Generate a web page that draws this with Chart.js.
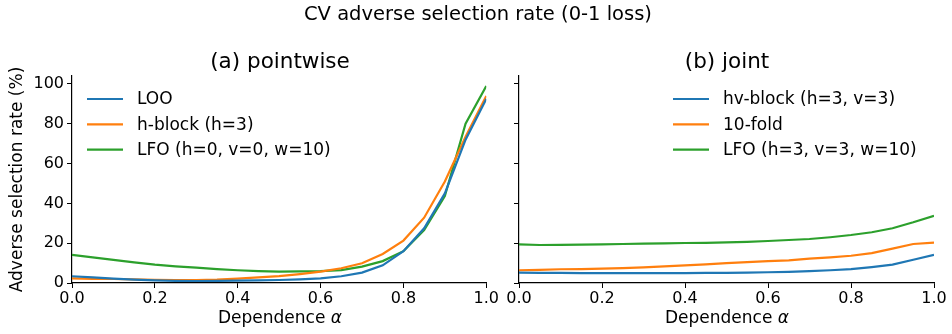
<!DOCTYPE html>
<html>
<head>
<meta charset="utf-8">
<script src="https://cdn.jsdelivr.net/npm/chart.js@4.4.1/dist/chart.umd.min.js"></script>
<style>
  body { margin: 0; background: #fff; }
  #wrap { position: relative; width: 952px; height: 334px; font-family: "DejaVu Sans", sans-serif; color: #000; }
  canvas { position: absolute; top: 0; }
  .t { position: absolute; white-space: nowrap; transform: translateX(-50%); line-height: 1; }
</style>
</head>
<body>
<div id="wrap">
  <canvas id="left" width="500" height="334" style="left:0; width:500px; height:334px;"></canvas>
  <canvas id="right" width="452" height="334" style="left:500px; width:452px; height:334px;"></canvas>
  <div class="t" style="left:478px; top:4px; font-size:19.5px;">CV adverse selection rate (0-1 loss)</div>
  <div class="t" style="left:280px; top:50px; font-size:21.5px;">(a) pointwise</div>
  <div class="t" style="left:727px; top:50px; font-size:21.5px;">(b) joint</div>
  <div class="t" style="left:280px; top:309px; font-size:17px;">Dependence <i>&alpha;</i></div>
  <div class="t" style="left:727px; top:309px; font-size:17px;">Dependence <i>&alpha;</i></div>
</div>
<script>
const alpha = [0, 0.05, 0.1, 0.15, 0.2, 0.25, 0.3, 0.35, 0.4, 0.45, 0.5,
               0.55, 0.6, 0.65, 0.7, 0.75, 0.8, 0.85, 0.9, 0.95, 1.0];
const xTicks = [0, 0.2, 0.4, 0.6, 0.8, 1.0];
const yTicks = [0, 20, 40, 60, 80, 100];

// (a) pointwise
const looRate = [3.4, 2.8, 2.2, 1.7, 1.3, 1.1, 1.0, 1.1, 1.2, 1.3, 1.5,
                 1.8, 2.3, 3.4, 5.2, 8.9, 16, 27.5, 45, 72, 92.5];
const hBlockRate = [2.3, 2.1, 2.0, 1.8, 1.6, 1.5, 1.5, 1.7, 2.2, 2.8, 3.5,
                    4.5, 5.7, 7.4, 9.9, 14.6, 21.3, 32.8, 51, 73.5, 94];
const lfoPointRate = [14.1, 12.9, 11.6, 10.4, 9.2, 8.4, 7.7, 7.0, 6.4, 6.0, 5.7,
                      5.8, 6.0, 6.5, 8.2, 11, 16, 26.6, 43.7, 80, 99];

// (b) joint
const hvBlockRate = [5.2, 5.1, 5.1, 5.0, 5.0, 5.0, 5.0, 5.0, 5.0, 5.1, 5.1,
                     5.2, 5.4, 5.6, 6.0, 6.4, 7.0, 8.0, 9.2, 11.7, 14.1];
const tenFoldRate = [6.4, 6.6, 6.9, 7.0, 7.2, 7.5, 7.9, 8.4, 8.9, 9.4, 10,
                     10.5, 11, 11.4, 12.2, 12.9, 13.7, 15, 17.3, 19.6, 20.3];
const lfoJointRate = [19.4, 19.1, 19.2, 19.3, 19.4, 19.6, 19.8, 19.9, 20.1, 20.2, 20.4,
                      20.7, 21.1, 21.6, 22.1, 23, 24.1, 25.5, 27.5, 30.5, 33.8];

const BLUE = "#1f77b4", ORANGE = "#ff7f0e", GREEN = "#2ca02c";
const FONT = "DejaVu Sans";

function series(label, values, color) {
  return {
    label,
    data: alpha.map((a, i) => ({ x: a, y: values[i] })),
    borderColor: color,
    backgroundColor: color,
    borderWidth: 2.2,
    pointRadius: 0,
    tension: 0,
    fill: false,
  };
}

// legend drawn inside the plot like matplotlib's
const boxLegend = {
  id: "boxLegend",
  afterDraw(chart, args, opts) {
    const ctx = chart.ctx;
    ctx.save();
    ctx.font = "17px " + FONT;
    ctx.textBaseline = "middle";
    chart.data.datasets.forEach((ds, i) => {
      const y = opts.y + i * 25.3;
      ctx.strokeStyle = ds.borderColor;
      ctx.lineWidth = 2.2;
      ctx.beginPath();
      ctx.moveTo(opts.x, y);
      ctx.lineTo(opts.x + 36, y);
      ctx.stroke();
      ctx.fillStyle = "#000";
      ctx.fillText(ds.label, opts.x + 50, y + 1);
    });
    ctx.restore();
  },
};

function makeChart(id, datasets, yAxisWidth, padRight, showYLabels, legendPos) {
  new Chart(document.getElementById(id), {
    type: "line",
    data: { datasets },
    plugins: [boxLegend],
    options: {
      responsive: false,
      animation: false,
      layout: { padding: { top: 76, right: padRight, left: 0, bottom: 0 } },
      plugins: {
        legend: { display: false },
        tooltip: { enabled: false },
        boxLegend: legendPos,
      },
      scales: {
        x: {
          type: "linear",
          min: 0,
          max: 1,
          afterBuildTicks: (s) => { s.ticks = xTicks.map((v) => ({ value: v })); },
          afterFit: (s) => { s.height = 51; },
          ticks: {
            color: "#000",
            font: { family: FONT, size: 16 },
            padding: 1,
            maxRotation: 0,
            callback: (v) => v.toFixed(1),
          },
          grid: { drawOnChartArea: false, color: "#000", tickLength: 5, tickColor: "#000" },
          border: { color: "#000", width: 1.2 },
        },
        y: {
          type: "linear",
          min: 0,
          max: 104,
          afterBuildTicks: (s) => { s.ticks = yTicks.map((v) => ({ value: v })); },
          afterFit: (s) => { s.width = yAxisWidth; },
          ticks: {
            display: showYLabels,
            color: "#000",
            font: { family: FONT, size: 16 },
            padding: 3,
          },
          grid: { drawOnChartArea: false, color: "#000", tickLength: 5, tickColor: "#000" },
          border: { color: "#000", width: 1.2 },
          title: {
            display: showYLabels,
            text: "Adverse selection rate (%)",
            color: "#000",
            font: { family: FONT, size: 17 },
            padding: { top: 7, bottom: 0 },
          },
        },
      },
    },
  });
}

makeChart("left", [
  series("LOO", looRate, BLUE),
  series("h-block (h=3)", hBlockRate, ORANGE),
  series("LFO (h=0, v=0, w=10)", lfoPointRate, GREEN),
], 72, 13, true, { x: 87, y: 99 });

makeChart("right", [
  series("hv-block (h=3, v=3)", hvBlockRate, BLUE),
  series("10-fold", tenFoldRate, ORANGE),
  series("LFO (h=3, v=3, w=10)", lfoJointRate, GREEN),
], 19, 18, false, { x: 173, y: 99 });
</script>
</body>
</html>
